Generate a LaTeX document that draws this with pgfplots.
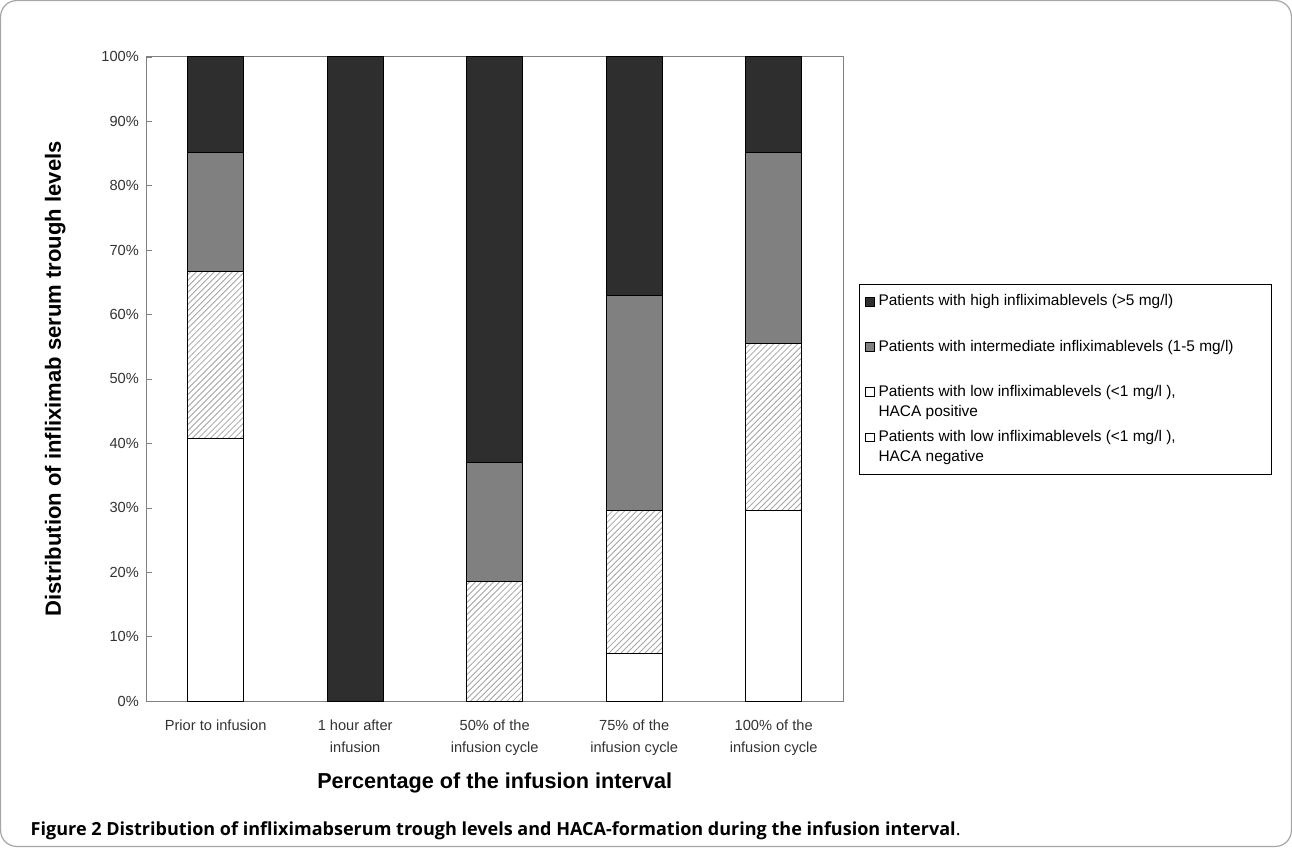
\documentclass[border=0pt]{standalone}
\usepackage{pgfplots}
\pgfplotsset{compat=1.18}
\usetikzlibrary{patterns}
\usepackage{fontspec}
\setmainfont{Liberation Sans}
\newfontfamily\capfont{Open Sans}
\begin{document}
\begin{tikzpicture}
\draw[gray!70, line width=0.6pt, rounded corners=8pt] (1pt,1pt) rectangle (645pt,423pt);
\begin{axis}[at={(73.5pt,73.5pt)}, anchor=south west, scale only axis,
  width=348pt, height=321.5pt,
  ybar stacked, bar width=28pt,
  xmin=-0.5, xmax=4.5, ymin=0, ymax=100,
  xtick={0,1,2,3,4},
  xticklabels={Prior to infusion, 1 hour after\\infusion, 50\% of the\\infusion cycle, 75\% of the\\infusion cycle, 100\% of the\\infusion cycle},
  xticklabel style={align=center, font=\fontsize{7.3}{11}\selectfont, text=black!80, yshift=-6pt},
  extra x ticks={-0.5,0.5,1.5,2.5,3.5,4.5}, extra x tick labels={},
  extra x tick style={major tick length=3pt, tick style={draw=black!70}, xtick pos=bottom},
  ytick={0,10,...,100},
  yticklabel={\pgfmathprintnumber{\tick}\%},
  /pgf/number format/assume math mode=true,
  yticklabel style={font=\fontsize{7.3}{8.8}\selectfont, text=black!80},
  major tick length=3pt, x tick style={draw=none}, ytick pos=left,
  axis line style={gray},
  ylabel={\bfseries Distribution of infliximab serum trough levels},
  ylabel style={font=\fontsize{11}{12}\selectfont, yshift=11pt},
  xlabel={\bfseries Percentage of the infusion interval},
  xlabel style={font=\fontsize{10.8}{12}\selectfont, yshift=-1.5pt},
  legend style={at={(rel axis cs:1.0216,0.647)}, anchor=north west,
    font=\fontsize{7.7}{10}\selectfont, cells={align=left, anchor=west},
    draw=black, row sep=1.5pt, inner xsep=3pt, inner ysep=3pt},
  legend cell align=left,
  legend image code/.code={\draw[#1] (0pt,2.8pt) rectangle (4.4pt,7.2pt);},
]
\addplot[forget plot, draw=black, fill=white] coordinates {(0,40.74) (1,0) (2,0) (3,7.41) (4,29.63)};
\addplot[forget plot, draw=black, fill=white, postaction={pattern=north east lines, pattern color=gray!70}] coordinates {(0,25.93) (1,0) (2,18.52) (3,22.22) (4,25.93)};
\addplot[forget plot, draw=black, fill=black!50] coordinates {(0,18.52) (1,0) (2,18.52) (3,33.33) (4,29.63)};
\addplot[forget plot, draw=black, fill=black!82] coordinates {(0,14.81) (1,100) (2,62.96) (3,37.04) (4,14.81)};
\addlegendimage{draw=black, fill=black!82}
\addlegendentry{Patients with high infliximablevels (>5 mg/l)\\\strut}
\addlegendimage{draw=black, fill=black!50}
\addlegendentry{Patients with intermediate infliximablevels (1-5 mg/l)\hspace*{14pt}\\\strut}
\addlegendimage{draw=black, fill=white}
\addlegendentry{Patients with low infliximablevels (<1 mg/l ),\\HACA positive}
\addlegendimage{draw=black, fill=white}
\addlegendentry{Patients with low infliximablevels (<1 mg/l ),\\HACA negative}
\end{axis}
\node[anchor=base west, font=\capfont\fontsize{9}{10}\selectfont] at (12.5pt,6.5pt) {\textbf{Figure 2 Distribution of infliximabserum trough levels and HACA-formation during the infusion interval}.};
\end{tikzpicture}
\end{document}
